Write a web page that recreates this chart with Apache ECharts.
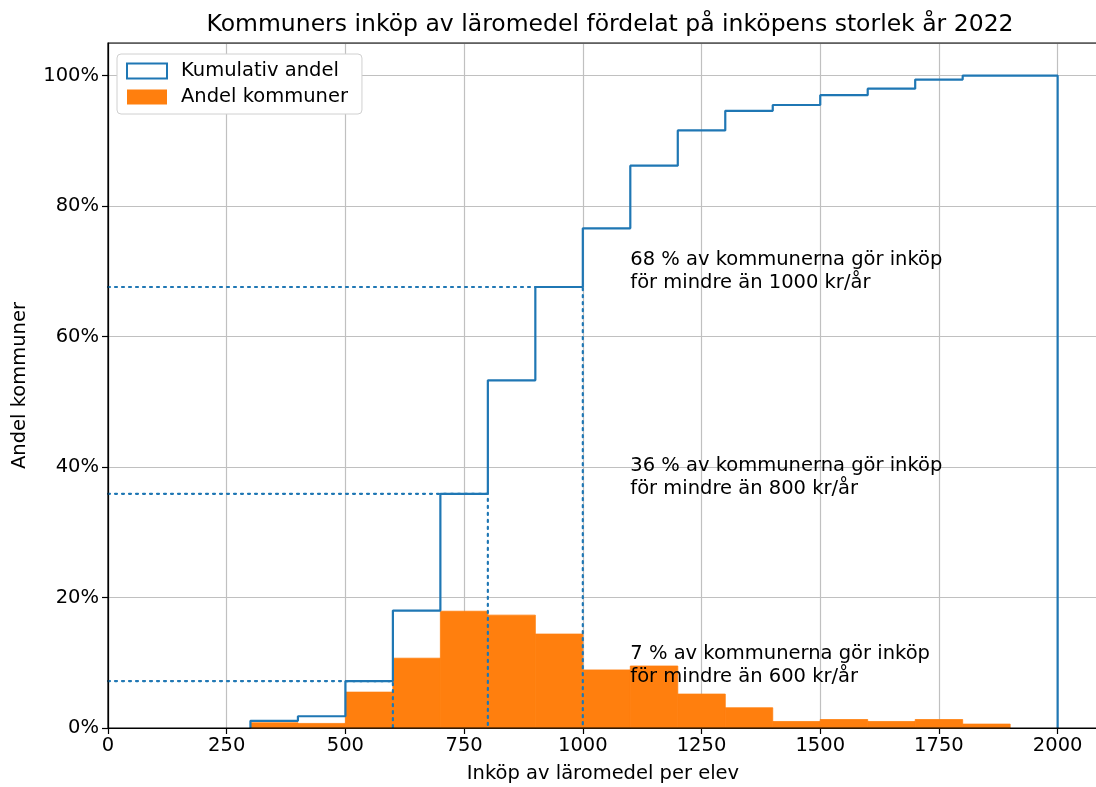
<!DOCTYPE html>
<html>
<head>
<meta charset="utf-8">
<script src="https://cdn.jsdelivr.net/npm/echarts@6/dist/echarts.min.js"></script>
<style>
    html, body { margin: 0; padding: 0; background: #fff; }
    #chart { width: 1096px; height: 787px; }
</style>
</head>
<body>
<div id="chart"></div>
<script>
// bins of 100 kr, from 300 to 2000
let binStart = [300, 400, 500, 600, 700, 800, 900, 1000, 1100, 1200, 1300, 1400, 1500, 1600, 1700, 1800, 1900];
let binWidth = 100;
// andel kommuner per bin (%)
let andel = [0.8, 0.7, 5.5, 10.7, 17.9, 17.3, 14.4, 8.9, 9.5, 5.2, 3.1, 1.0, 1.3, 1.0, 1.3, 0.6, 0];
// kumulativ andel (%)
let kumulativ = [1.1, 1.8, 7.2, 18.0, 35.9, 53.3, 67.6, 76.6, 86.2, 91.6, 94.6, 95.5, 97.0, 98.0, 99.4, 100, 100];

// reference lines + texts
let refX = [600, 800, 1000];
let refY = [7.2, 35.9, 67.6];
let refText = [
    "7 % av kommunerna gör inköp\nför mindre än 600 kr/år",
    "36 % av kommunerna gör inköp\nför mindre än 800 kr/år",
    "68 % av kommunerna gör inköp\nför mindre än 1000 kr/år"
];
let textX = 1100;

let xTicks = [0, 250, 500, 750, 1000, 1250, 1500, 1750, 2000];
let yTicks = [0, 20, 40, 60, 80, 100];

const BLUE = '#1f77b4';
const ORANGE = '#ff7f0e';
const FONT = 'DejaVu Sans';
const FS = 19.5;

var dom = document.getElementById('chart');
var myChart = echarts.init(dom, null, { renderer: 'canvas' });

// step outline for the cumulative histogram
let stepData = [[binStart[0], 0]];
for (let i = 0; i < binStart.length; i++) {
    stepData.push([binStart[i], kumulativ[i]]);
    stepData.push([binStart[i] + binWidth, kumulativ[i]]);
}
stepData.push([binStart[binStart.length - 1] + binWidth, 0]);

let barData = binStart.map((b, i) => [b, b + binWidth, andel[i]]);

let refSeries = refX.map((x, i) => ({
    type: 'line',
    name: 'ref' + i,
    data: [[0, refY[i]], [x, refY[i]], [x, 0]],
    symbol: 'none',
    silent: true,
    z: 4,
    lineStyle: { color: BLUE, width: 2.2, type: [2, 5], cap: 'round' }
}));

let option = {
    backgroundColor: '#fff',
    animation: false,
    textStyle: { fontFamily: FONT },
    title: {
        text: 'Kommuners inköp av läromedel fördelat på inköpens storlek år 2022',
        left: 605,
        textAlign: 'center',
        top: 8,
        textStyle: { fontFamily: FONT, fontSize: 23.5, fontWeight: 'normal', color: '#000' }
    },
    legend: {
        left: 117,
        top: 54,
        orient: 'vertical',
        itemWidth: 40,
        itemHeight: 15,
        itemGap: 6,
        padding: [7, 14, 7, 9],
        backgroundColor: '#fff',
        borderColor: '#d0d0d0',
        borderWidth: 1,
        borderRadius: 4,
        textStyle: { fontFamily: FONT, fontSize: FS, color: '#000', padding: [0, 0, 0, 9] },
        data: [
            { name: 'Kumulativ andel', icon: 'rect', itemStyle: { color: '#fff', borderColor: BLUE, borderWidth: 2 } },
            { name: 'Andel kommuner', icon: 'rect', itemStyle: { color: ORANGE } }
        ]
    },
    grid: {
        left: 108,
        right: -2,
        top: 43,
        bottom: 59,
        outerBoundsMode: 'none',
        containLabel: false,
        show: true,
        borderColor: '#000',
        borderWidth: 1.2,
        z: 10
    },
    xAxis: {
        type: 'value',
        min: 0,
        max: 2085,
        interval: 250,
        name: 'Inköp av läromedel per elev',
        nameLocation: 'middle',
        nameGap: 36,
        nameTextStyle: { fontFamily: FONT, fontSize: FS, color: '#000' },
        axisLine: { show: true, onZero: false, lineStyle: { color: '#000', width: 1.2 } },
        axisTick: { show: true, length: 6, lineStyle: { color: '#000', width: 1.2 } },
        axisLabel: {
            fontFamily: FONT, fontSize: FS, color: '#000', margin: 8, showMaxLabel: false,
            formatter: v => xTicks.indexOf(v) >= 0 ? String(v) : ''
        },
        splitLine: { show: true, lineStyle: { color: '#c0c0c0', width: 1.2 } }
    },
    yAxis: {
        type: 'value',
        min: 0,
        max: 105,
        interval: 20,
        name: 'Andel kommuner',
        nameLocation: 'middle',
        nameGap: 78,
        nameTextStyle: { fontFamily: FONT, fontSize: FS, color: '#000' },
        axisLine: { show: true, lineStyle: { color: '#000', width: 1.2 } },
        axisTick: { show: true, length: 6, lineStyle: { color: '#000', width: 1.2 } },
        axisLabel: {
            fontFamily: FONT, fontSize: FS, color: '#000', margin: 9, showMaxLabel: false,
            formatter: v => yTicks.indexOf(v) >= 0 ? v + '%' : ''
        },
        splitLine: { show: true, lineStyle: { color: '#c0c0c0', width: 1.2 } }
    },
    series: [
        {
            type: 'custom',
            name: 'Andel kommuner',
            data: barData,
            z: 2,
            renderItem: function (params, api) {
                if (!api.value(2)) return null;
                let p0 = api.coord([api.value(0), 0]);
                let p1 = api.coord([api.value(1), api.value(2)]);
                return {
                    type: 'rect',
                    shape: { x: p0[0], y: p1[1], width: p1[0] - p0[0], height: p0[1] - p1[1] },
                    style: { fill: ORANGE, stroke: ORANGE, lineWidth: 0.8 }
                };
            },
            itemStyle: { color: ORANGE }
        },
        {
            type: 'line',
            name: 'Kumulativ andel',
            data: stepData,
            symbol: 'none',
            z: 5,
            lineStyle: { color: BLUE, width: 2.2 },
            itemStyle: { color: BLUE }
        },
        ...refSeries,
        {
            type: 'scatter',
            name: 'texts',
            silent: true,
            symbolSize: 0,
            z: 6,
            itemStyle: { opacity: 1 },
            data: refText.map((t, i) => [textX, refY[i], t]),
            label: {
                show: true,
                position: [0, 7],
                align: 'left',
                verticalAlign: 'bottom',
                fontFamily: FONT,
                fontSize: FS,
                lineHeight: 23,
                color: '#000',
                opacity: 1,
                formatter: p => p.value[2]
            }
        }
    ]
};

myChart.setOption(option);
window.addEventListener('resize', myChart.resize);
</script>
</body>
</html>
